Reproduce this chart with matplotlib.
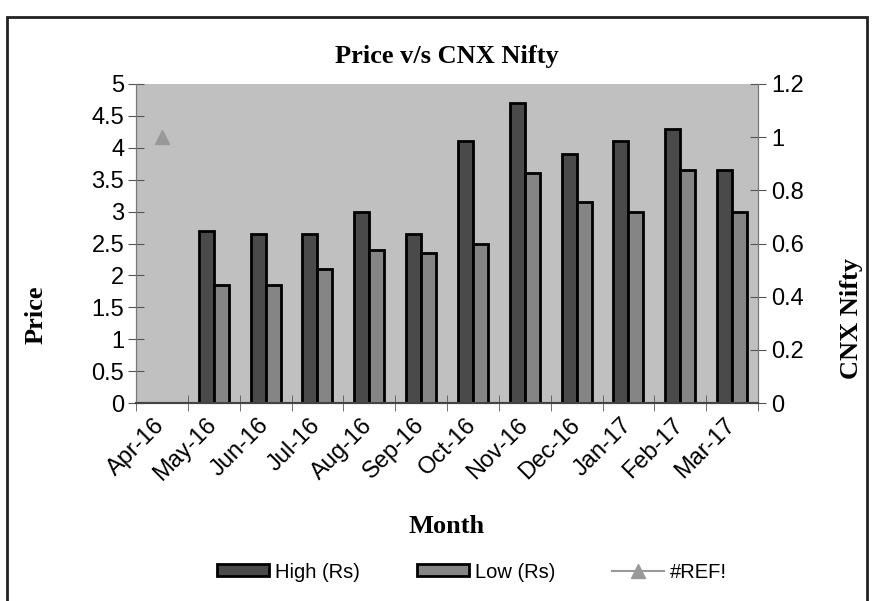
import numpy as np
import matplotlib.pyplot as plt
import matplotlib.transforms as mtransforms
from matplotlib.patches import Rectangle

months = ['Apr-16', 'May-16', 'Jun-16', 'Jul-16', 'Aug-16', 'Sep-16',
          'Oct-16', 'Nov-16', 'Dec-16', 'Jan-17', 'Feb-17', 'Mar-17']
high = [0, 2.7, 2.65, 2.65, 3.0, 2.65, 4.1, 4.7, 3.9, 4.1, 4.3, 3.65]
low = [0, 1.85, 1.85, 2.1, 2.4, 2.35, 2.5, 3.6, 3.15, 3.0, 3.65, 3.0]
ref = [1.0] + [np.nan] * 11

plt.rcParams['font.family'] = ['Liberation Sans', 'DejaVu Sans']
serif = 'Liberation Serif'

fig = plt.figure(figsize=(8.74, 6.01), dpi=100)
ax = fig.add_axes([136 / 874, 1 - 403 / 601, 622 / 874, 319 / 601])
ax.set_facecolor('#c0c0c0')

x = np.arange(len(months))
w = 0.29
ax.bar(x - w / 2, high, w, color='#4a4a4a', edgecolor='black', linewidth=2,
       label='High (Rs)', zorder=3)
ax.bar(x + w / 2, low, w, color='#858585', edgecolor='black', linewidth=2,
       label='Low (Rs)', zorder=3)
ax.set_xlim(-0.5, len(months) - 0.5)
ax.set_ylim(0, 5)
ax.set_yticks(np.arange(0, 5.01, 0.5))
ax.set_yticklabels(['0', '0.5', '1', '1.5', '2', '2.5', '3', '3.5', '4', '4.5', '5'])
ax.set_xticks(x)
ax.set_xticklabels(months, rotation=45, ha='right', rotation_mode='anchor')
ax.set_xticks(np.arange(-0.5, len(months), 1), minor=True)
ax.tick_params(axis='x', which='major', length=0, labelsize=17, pad=8)
ax.tick_params(axis='x', which='minor', direction='inout', length=11, color='#555555')
ax.tick_params(axis='y', direction='inout', length=11, labelsize=17, color='#555555', pad=3)
shift = mtransforms.ScaledTranslation(-0.08, 0, fig.dpi_scale_trans)
for lbl in ax.get_xticklabels():
    lbl.set_transform(lbl.get_transform() + shift)

ax2 = ax.twinx()
ax2.plot(x, ref, color='#999999', marker='^', markersize=10, linewidth=1.5,
         label='#REF!')
ax2.set_ylim(0, 1.2)
ax2.set_yticks(np.arange(0, 1.21, 0.2))
ax2.set_yticklabels(['0', '0.2', '0.4', '0.6', '0.8', '1', '1.2'])
ax2.tick_params(axis='y', direction='inout', length=11, labelsize=17, color='#555555', pad=4)

for a in (ax, ax2):
    a.spines['top'].set_visible(False)
    a.spines['left'].set_color('#777777')
    a.spines['right'].set_color('#777777')
    a.spines['bottom'].set_color('#444444')
    a.spines['bottom'].set_linewidth(1.5)

ax.set_ylabel('Price', fontfamily=serif, fontweight='bold', fontsize=19)
ax.yaxis.set_label_coords(-0.1415, 0.276)
ax2.set_ylabel('CNX Nifty', fontfamily=serif, fontweight='bold', fontsize=19)
ax2.yaxis.set_label_coords(1.132, 0.266)
ax.set_xlabel('Month', fontfamily=serif, fontweight='bold', fontsize=19)
ax.xaxis.set_label_coords(0.5, -0.35)
ax.set_title('Price v/s CNX Nifty', fontfamily=serif, fontweight='bold', fontsize=19, pad=15)

h1, l1 = ax.get_legend_handles_labels()
h2, l2 = ax2.get_legend_handles_labels()
fig.legend(h1 + h2, l1 + l2, loc='center', bbox_to_anchor=(472 / 874, 1 - 572 / 601),
           ncol=3, frameon=False, fontsize=14.5, handlelength=2.6, handleheight=0.55,
           columnspacing=2.8, handletextpad=0.3)

fig.patches.append(Rectangle((7 / 874, -0.1), 860 / 874, 1.1 - 17 / 601,
                             transform=fig.transFigure, fill=False,
                             edgecolor='#222222', linewidth=2))

fig.savefig('out.png', dpi=100)
